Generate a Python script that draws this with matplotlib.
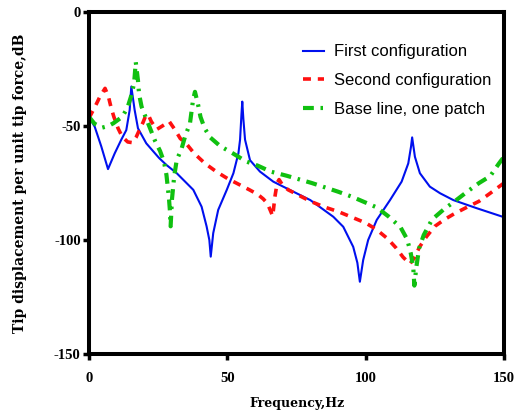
import matplotlib
matplotlib.use("Agg")
import matplotlib.pyplot as plt

# First configuration (blue, solid)
f1 = [0, 0.25, 2.06, 4.45, 6.87, 9.29, 11.67, 13.48, 14.7, 15.29, 16.5, 17.7, 20.7, 25.3, 27.9,
      31.7, 37.7, 40.7, 42.5, 43.5, 44, 44.9, 46.7, 49.8, 52.2, 54, 54.6, 55.1, 55.4, 55.8, 56.4,
      58.2, 61.8, 66.6, 70.2, 80, 88.3, 91.9, 95.5, 97, 97.9, 99.1, 100.9, 104, 108.8, 113, 115.4,
      116.4, 116.8, 117.8, 119.6, 123.2, 126.9, 131.7, 140, 145, 150]
y1 = [-46, -46.6, -50.3, -59, -68.9, -62, -56, -51.8, -43, -32.7, -43, -51, -57.6, -64, -67,
      -70.7, -78, -85.4, -94, -100, -107.3, -97, -86.8, -78, -70.7, -62, -56, -45, -39.3, -47, -56,
      -65, -70, -74.4, -76.6, -82.5, -89.8, -94.2, -103, -110, -118.3, -108.8, -100, -91.2, -82.5,
      -74.4, -66.4, -59, -55, -63.5, -70.7, -76.6, -79.5, -82.5, -86, -88, -90]

# Second configuration (red, dashed)
f2 = [0, 2, 4, 5.8, 7, 8, 9, 10.5, 12, 14, 15.7, 17, 18.5, 19.5, 20.5, 21.4, 22.5, 24.5, 26.5, 29,
      31, 33, 35, 38, 42, 46, 50, 54, 58, 61, 63, 64.5, 66.4, 67.2, 68, 68.7, 70, 72, 76, 80, 85, 90,
      95, 100, 104, 108, 111, 113.5, 116, 117.5, 119.5, 122, 125, 128.5, 132, 136, 141, 145, 150]
y2 = [-46.5, -42, -37, -33.5, -37, -42, -46, -51, -54.7, -57, -57.3, -55, -51, -48.5, -45.5, -45,
      -48, -51.5, -50, -48, -51.5, -55.5, -57.5, -62, -66.5, -70, -73, -75.5, -78, -80, -82, -84,
      -89.5, -81, -75, -73.5, -76, -78, -80.5, -83, -85.5, -87.5, -90, -92.5, -95.5, -99.5, -103.5,
      -107.5, -110.5, -108, -103, -98.5, -94, -91, -88.5, -86, -83, -79.5, -75]

# Base line, one patch (green, dash-dot)
f3 = [0, 2, 4.8, 7, 8.8, 12, 13.9, 15.2, 16.3, 16.9, 17.2, 17.7, 18.1, 19, 20.5, 23.9, 25.7, 27.1,
      28, 28.9, 29.3, 29.5, 30, 30.8, 31.7, 33.5, 34.7, 36.5, 37.6, 38.3, 39.4, 40.3, 41.8, 43.8,
      47.4, 52, 56.7, 61, 65.7, 71.4, 80.5, 90, 95, 100, 104, 108.4, 112.6, 115, 116.3, 117.2,
      117.6, 118.3, 119.3, 121, 124, 128.3, 132, 136.7, 141, 145, 148.2, 150]
y3 = [-46, -49, -50.7, -50, -48.8, -46, -42, -37, -31.3, -22, -25, -30, -36, -41.5, -46.2, -56.6,
      -61, -65.7, -71.5, -81.7, -88, -94, -82, -72, -65, -59.8, -54.7, -48.8, -38.6, -35, -40.5,
      -46, -51, -55, -58.8, -62, -65.5, -67.4, -70, -71.8, -75, -78.8, -81, -83.6, -85.7, -89.8,
      -94.4, -99.7, -105.8, -112, -120, -112, -103.7, -97.8, -91, -86.5, -83.2, -78.8, -75, -72,
      -66.4, -63.5]

labels = ["First configuration", "Second configuration", "Base line, one patch"]
xticks = [0, 50, 100, 150]
yticks = [0, -50, -100, -150]

fig = plt.figure(figsize=(5.15, 4.13), dpi=100)
ax = fig.add_axes([89/515, 1-354/413, (504-89)/515, (354-12)/413])

ax.plot(f1, y1, color="#0010ee", lw=1.5, label=labels[0])
ax.plot(f2, y2, color="#ff1010", lw=2.6, dashes=(2.2, 1.9), label=labels[1])
ax.plot(f3, y3, color="#10c010", lw=3.0, dashes=(2.6, 1.6, 0.6, 1.6), label=labels[2])

ax.set_xlim(0, 150)
ax.set_ylim(-150, 0)
ax.set_xticks(xticks)
ax.set_yticks(yticks)
ax.set_xticklabels([str(v) for v in xticks])
ax.set_yticklabels([str(v) for v in yticks])

for s in ax.spines.values():
    s.set_linewidth(2.9)
ax.tick_params(direction="out", length=4, width=2.5, pad=2)
ax.tick_params(axis="x", pad=9)
for t in ax.get_xticklabels() + ax.get_yticklabels():
    t.set_fontfamily("Liberation Serif")
    t.set_fontweight("bold")
    t.set_fontsize(10.5)

ax.set_xlabel("Frequency,Hz", fontfamily="DejaVu Serif", fontweight="bold", fontsize=9, va="center")
ax.set_ylabel("Tip displacement per unit tip force,dB", fontfamily="DejaVu Serif",
              fontweight="bold", fontsize=10, va="center")
ax.xaxis.set_label_coords(0.5, (354 - 403) / 342)
ax.yaxis.set_label_coords((20 - 89) / 415, (354 - 183) / 342)

leg = ax.legend(loc="upper left", bbox_to_anchor=(0.515, 0.905), frameon=False,
                borderaxespad=0, borderpad=0, handlelength=1.3, handletextpad=0.6,
                labelspacing=0.82, prop={"family": "Liberation Sans", "size": 12})

fig.savefig("out.png", dpi=100)
